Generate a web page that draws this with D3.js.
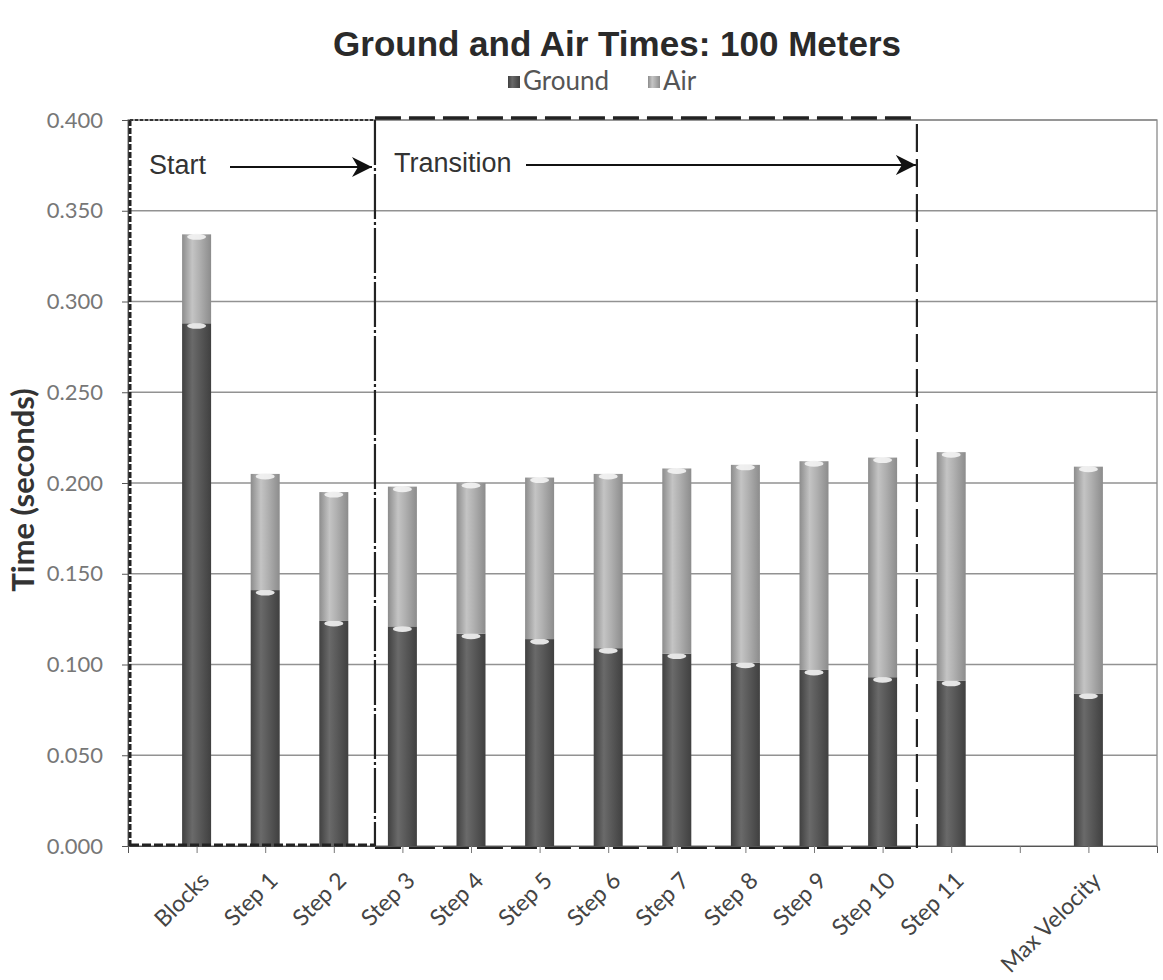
<!DOCTYPE html>
<html>
<head>
<meta charset="utf-8">
<script src="https://cdn.jsdelivr.net/npm/d3@7"></script>
<style>
  body { margin: 0; background: #fff; }
  svg { display: block; }
</style>
</head>
<body>
<svg id="chart" width="1163" height="980"></svg>
<script>
// ---- data ----
const categories = ["Blocks", "Step 1", "Step 2", "Step 3", "Step 4", "Step 5", "Step 6",
                    "Step 7", "Step 8", "Step 9", "Step 10", "Step 11", "", "Max Velocity"];
const groundTimes = [0.288, 0.141, 0.124, 0.121, 0.117, 0.114, 0.109, 0.106, 0.101, 0.097, 0.093, 0.091, null, 0.084];
const airTimes    = [0.049, 0.064, 0.071, 0.077, 0.083, 0.089, 0.096, 0.102, 0.109, 0.115, 0.121, 0.126, null, 0.125];
const yTicks = [0, 0.05, 0.1, 0.15, 0.2, 0.25, 0.3, 0.35, 0.4];
const seriesNames = ["Ground", "Air"];

const svg = d3.select("#chart");
const pLeft = 128, pRight = 1157, pTop = 120, pBottom = 846;

const x = d3.scalePoint().domain(categories).range([pLeft, pRight]).padding(1);
const y = d3.scaleLinear().domain([0, 0.4]).range([pBottom, pTop]);
const barW = 29;
const calibri = "Lato, 'Open Sans', sans-serif";
const arial = "'Liberation Sans', Arial, sans-serif";

// gradients for cylinder look
const defs = svg.append("defs");
function grad(id, edge, mid, light) {
  const g = defs.append("linearGradient").attr("id", id).attr("x1", "0%").attr("x2", "100%");
  g.append("stop").attr("offset", "0%").attr("stop-color", edge);
  g.append("stop").attr("offset", "35%").attr("stop-color", light);
  g.append("stop").attr("offset", "60%").attr("stop-color", mid);
  g.append("stop").attr("offset", "100%").attr("stop-color", edge);
}
grad("gGround", "#404040", "#5a5a5a", "#6a6a6a");
grad("gAir", "#8c8c8c", "#b0b0b0", "#c4c4c4");

// Title
svg.append("text").attr("x", 617).attr("y", 56).attr("text-anchor", "middle")
  .attr("font-family", arial).attr("font-weight", "bold")
  .attr("font-size", 35).attr("fill", "#2a2a2a").text("Ground and Air Times: 100 Meters");

// Legend
const legend = svg.append("g").attr("font-family", calibri).attr("font-size", 26).attr("fill", "#555");
const legItems = [{name: seriesNames[0], fill: "url(#gGround)", x: 508}, {name: seriesNames[1], fill: "url(#gAir)", x: 648}];
legItems.forEach(d => {
  legend.append("rect").attr("x", d.x).attr("y", 76).attr("width", 12).attr("height", 12).attr("fill", d.fill);
  legend.append("text").attr("x", d.x + 15).attr("y", 90).text(d.name);
});

// gridlines
svg.append("g").selectAll("line").data(yTicks.filter(t => t > 0)).join("line")
  .attr("x1", pLeft).attr("x2", pRight).attr("y1", d => y(d)).attr("y2", d => y(d))
  .attr("stroke", "#929292").attr("stroke-width", 1.3);

// plot border
svg.append("rect").attr("x", pLeft).attr("y", pTop).attr("width", pRight - pLeft).attr("height", pBottom - pTop)
  .attr("fill", "none").attr("stroke", "#8a8a8a").attr("stroke-width", 1.3);

// y axis
const yAxis = d3.axisLeft(y).tickValues(yTicks).tickFormat(d3.format(".3f")).tickSize(6).tickPadding(19);
const ya = svg.append("g").attr("transform", `translate(${pLeft},0)`).call(yAxis);
ya.select(".domain").attr("stroke", "#555");
ya.selectAll(".tick line").attr("stroke", "#555");
ya.selectAll("text").attr("font-family", calibri).attr("font-size", 22).attr("fill", "#777");

svg.append("text").attr("transform", `translate(34,${490}) rotate(-90)`)
  .attr("text-anchor", "middle").attr("font-family", calibri).attr("font-weight", "bold")
  .attr("font-size", 31).attr("fill", "#333").text("Time (seconds)");

// x axis
const xAxis = d3.axisBottom(x).tickSize(7).tickFormat("");
const xa = svg.append("g").attr("transform", `translate(0,${pBottom})`).call(xAxis);
xa.select(".domain").attr("stroke", "#555");
xa.selectAll(".tick line").attr("stroke", "#777");
svg.append("g").selectAll("text").data(categories.filter(c => c !== "")).join("text")
  .attr("transform", d => `translate(${x(d) + 14},${pBottom + 36}) rotate(-45)`)
  .attr("text-anchor", "end").attr("font-family", calibri).attr("font-size", 23)
  .attr("fill", "#444").text(d => d);

// stacked bars
const rows = categories.map((c, i) => ({cat: c, Ground: groundTimes[i], Air: airTimes[i]}))
  .filter(r => r.Ground !== null);
const stacked = d3.stack().keys(seriesNames)(rows);
const fills = {Ground: "url(#gGround)", Air: "url(#gAir)"};
const bars = svg.append("g");
stacked.forEach(s => {
  const g = bars.append("g");
  g.selectAll("rect").data(s).join("rect")
    .attr("x", d => x(d.data.cat) - barW / 2).attr("width", barW)
    .attr("y", d => y(d[1])).attr("height", d => y(d[0]) - y(d[1]))
    .attr("fill", fills[s.key]);
  g.selectAll("ellipse").data(s).join("ellipse")
    .attr("cx", d => x(d.data.cat)).attr("cy", d => y(d[1]) + 2.5)
    .attr("rx", barW / 2 - 5).attr("ry", 3)
    .attr("fill", "#f4f4f4").attr("opacity", 0.9);
});

// annotation boxes
const xStartEnd = x("Step 3") - 0.4 * x.step();
const xTransEnd = (x("Step 10") + x("Step 11")) / 2;
const ann = svg.append("g").attr("fill", "none");
ann.append("line").attr("x1", pLeft + 2).attr("x2", pLeft + 2).attr("y1", pTop).attr("y2", pBottom)
  .attr("stroke", "#222").attr("stroke-width", 3).attr("stroke-dasharray", "6,2");
ann.append("line").attr("x1", pLeft + 2).attr("x2", xStartEnd).attr("y1", pTop).attr("y2", pTop)
  .attr("stroke", "#333").attr("stroke-width", 2.2).attr("stroke-dasharray", "3,2");
ann.append("line").attr("x1", pLeft + 2).attr("x2", xStartEnd).attr("y1", pBottom - 1).attr("y2", pBottom - 1)
  .attr("stroke", "#222").attr("stroke-width", 3).attr("stroke-dasharray", "9,3");
ann.append("line").attr("x1", xStartEnd).attr("x2", xStartEnd).attr("y1", pTop).attr("y2", pBottom)
  .attr("stroke", "#222").attr("stroke-width", 2.2).attr("stroke-dasharray", "45,3,3,3");
ann.append("line").attr("x1", xStartEnd).attr("x2", xTransEnd).attr("y1", pTop - 2).attr("y2", pTop - 2)
  .attr("stroke", "#222").attr("stroke-width", 3.5).attr("stroke-dasharray", "26,8");
ann.append("line").attr("x1", xTransEnd).attr("x2", xTransEnd).attr("y1", pTop + 4).attr("y2", pBottom + 2)
  .attr("stroke", "#222").attr("stroke-width", 2.2).attr("stroke-dasharray", "28,7");
ann.append("line").attr("x1", xStartEnd).attr("x2", xTransEnd).attr("y1", pBottom + 2).attr("y2", pBottom + 2)
  .attr("stroke", "#222").attr("stroke-width", 2.2).attr("stroke-dasharray", "26,8");

// arrows
defs.append("marker").attr("id", "arrow").attr("viewBox", "0 0 10 10").attr("refX", 10).attr("refY", 5)
  .attr("markerWidth", 20).attr("markerHeight", 20).attr("markerUnits", "userSpaceOnUse")
  .attr("orient", "auto")
  .append("path").attr("d", "M0,0 L10,5 L0,10 L3,5 Z").attr("fill", "#111");

svg.append("text").attr("x", 149).attr("y", 174).attr("font-family", arial).attr("font-size", 27)
  .attr("fill", "#333").text("Start");
svg.append("line").attr("x1", 230).attr("x2", xStartEnd - 3).attr("y1", 167).attr("y2", 167)
  .attr("stroke", "#111").attr("stroke-width", 2.2).attr("marker-end", "url(#arrow)");
svg.append("text").attr("x", 394).attr("y", 172).attr("font-family", arial).attr("font-size", 27)
  .attr("fill", "#333").text("Transition");
svg.append("line").attr("x1", 526).attr("x2", xTransEnd - 1).attr("y1", 165).attr("y2", 165)
  .attr("stroke", "#111").attr("stroke-width", 2.2).attr("marker-end", "url(#arrow)");
</script>
</body>
</html>
